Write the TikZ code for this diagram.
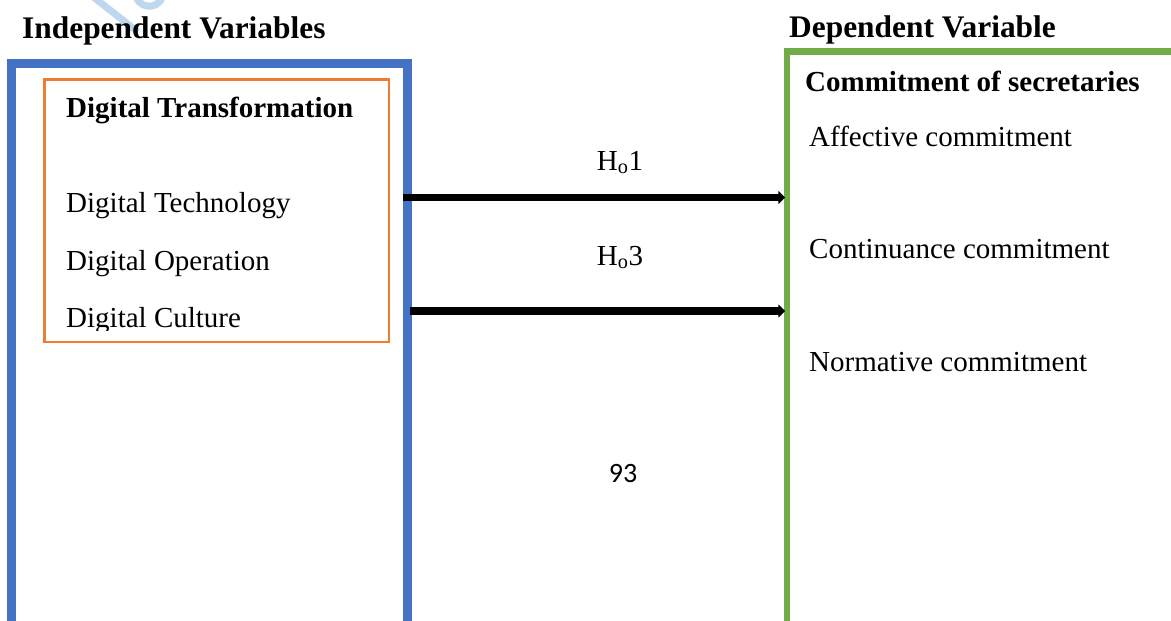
\documentclass[tikz,border=0pt]{standalone}
\usepackage{fontspec}
\setmainfont{Liberation Serif}
\newfontfamily\calib{Carlito}
\usetikzlibrary{arrows.meta,fit}
\definecolor{boxblue}{RGB}{68,114,196}
\definecolor{boxorange}{RGB}{237,125,49}
\definecolor{boxgreen}{RGB}{112,173,71}
\definecolor{wmblue}{RGB}{189,215,238}
\begin{document}
\begin{tikzpicture}[x=1pt,y=-1pt,
  txt/.style={anchor=base west,inner sep=0pt,font=\fontsize{29}{34}\selectfont},
  btxt/.style={txt,font=\fontsize{29}{34}\selectfont\bfseries},
  head/.style={anchor=base west,inner sep=0pt,font=\fontsize{31.4}{36}\selectfont\bfseries},
  hyp/.style={anchor=base,inner sep=0pt,font=\fontsize{29}{34}\selectfont},
  conn/.style={line width=7.5pt,-{Triangle[length=7pt,width=13pt]}}]
\useasboundingbox (0,0) rectangle (1171,621);
\clip (0,0) rectangle (1171,621);
\fill[white] (0,0) rectangle (1171,621);
% watermark fragment
\draw[wmblue,line width=7pt] (92,-4) -- (138,32);
\draw[wmblue,line width=7pt] (136,-3) arc[start angle=160,end angle=20,radius=14];
% headings
\node[head] (indep) at (22,38.3) {Independent Variables};
\node[head] (dep) at (789,37.3) {Dependent Variable};
% boxes
\node[draw=boxblue,line width=9pt,inner sep=0pt,fit={(11.5,63.5) (407,700)}] (indepbox) {};
\node[draw=boxgreen,line width=6.5pt,inner sep=0pt,fit={(787,51.5) (1260,700)}] (depbox) {};
\node[draw=boxorange,line width=2.5pt,inner sep=0pt,fit={(44.7,79.5) (389,342)}] (dtbox) {};
% left texts
\node[btxt] (dt) at (66,117) {Digital Transformation};
\node[txt] (tech) at (66,212.7) {Digital Technology};
\node[txt] (oper) at (66,270) {Digital Operation};
\begin{scope}
\clip (40,280) rectangle (390,330.5);
\node[txt] (cult) at (66,327) {Digital Culture};
\end{scope}
% right texts
\node[btxt] (cos) at (805,91.7) {Commitment of secretaries};
\node[txt] (aff) at (809,146.7) {Affective commitment};
\node[txt] (cont) at (809,258) {Continuance commitment};
\node[txt] (norm) at (809,371.7) {Normative commitment};
% hypotheses
\node[hyp] (h1) at (620,170) {H\textsubscript{o}1};
\node[hyp] (h3) at (620,265) {H\textsubscript{o}3};
\node[anchor=center,inner sep=0pt,font=\calib\fontsize{28}{32}\selectfont] (pg) at (623,474) {93};
% connectors
\coordinate (a1s) at (403,197.5);
\coordinate (a2s) at (410,311);
\draw[conn] (a1s) -- ([xshift=1.5pt]depbox.west |- a1s);
\draw[conn] (a2s) -- ([xshift=1.5pt]depbox.west |- a2s);
\end{tikzpicture}
\end{document}
